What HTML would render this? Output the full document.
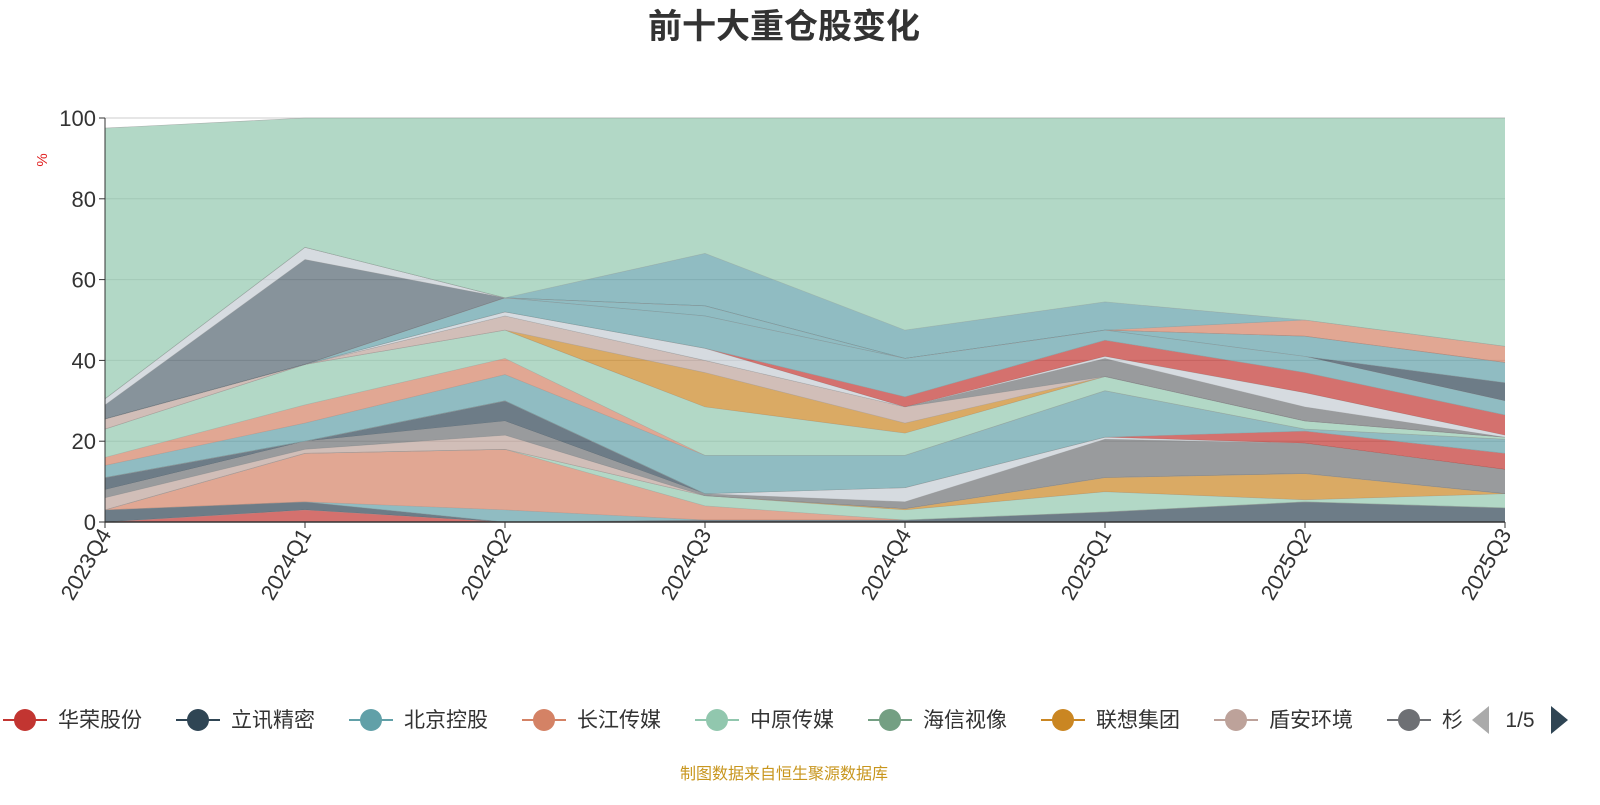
<!DOCTYPE html>
<html><head><meta charset="utf-8">
<style>
body{margin:0;background:#fff;width:1600px;height:800px;overflow:hidden;font-family:"Liberation Sans","Noto Sans CJK SC",sans-serif;}
</style></head>
<body>
<svg id="chart" width="1600" height="800" xmlns="http://www.w3.org/2000/svg">
<text x="784" y="38" text-anchor="middle" font-size="34" font-weight="bold" fill="#333" font-family="Liberation Sans, Noto Sans CJK SC, sans-serif">前十大重仓股变化</text>
<g id="grid"></g>
<g id="areas"></g>
<g id="axes"></g>
<text transform="translate(47,160) rotate(-90)" text-anchor="middle" font-size="15" fill="#e02020">%</text>
<g id="legend"></g>
<text x="784" y="779" text-anchor="middle" font-size="16" fill="#c8961e" font-family="Liberation Sans, Noto Sans CJK SC, sans-serif">制图数据来自恒生聚源数据库</text>
</svg>
<script>
const categories = ["2023Q4","2024Q1","2024Q2","2024Q3","2024Q4","2025Q1","2025Q2","2025Q3"];
const yTicks = [0,20,40,60,80,100];
const s1 = [0,3,0,0,0,0,0,0];
const s2 = [3,2,0,0.5,0.5,2.5,5,3.5];
const s3 = [0,0,3,0,0,0,0,0];
const s4 = [0,12,15,3.5,0,0,0,0];
const s5 = [0,0,0,2.5,2.5,5,0.5,3.5];
const s6 = [0,0,0,0,0.3,3.5,6.5,0];
const s7 = [3,1,3.5,0,0,0,0,0];
const s8 = [2,2,3.5,0.5,1.7,9.5,7.5,6];
const s9 = [3,0,5,0,0,0,0,0];
const s10 = [0,0,0,0,3.5,0.5,0,0];
const s11 = [0,0,0,0,0,0,3,4];
const s12 = [3,4.5,6.5,9.5,8,11.5,0.5,3.5];
const s13 = [2,4.5,4,0,0,0,0,0];
const s14 = [7,10,7,12,5.5,3.5,2,0.5];
const s15 = [0,0,0,8.5,2.5,0,0,0];
const s16 = [2.5,0,3.5,3,4,0,0,0];
const s17 = [0,0,0,0,0,4.5,3.5,0];
const s18 = [0,0,1,3,0,0.5,3.5,0.5];
const s19 = [0,0,0,0,2.5,4,5,5];
const s20 = [0,0,3.5,8,9.5,2.5,4,3.5];
const s21 = [0,0,0,0,0,0,0,4.5];
const s22 = [0,0,0,2.5,0,0,5,5];
const s23 = [3.5,26,0,0,0,0,0,0];
const s24 = [1.5,3,0,0,0,0,0,0];
const s25 = [0,0,0,0,0,0,4,4];
const s26 = [0,0,0,13,7,7,0,0];
const s27 = [67,32,44.5,33.5,52.5,45.5,50,56.5];
const seriesList = [s1,s2,s3,s4,s5,s6,s7,s8,s9,s10,s11,s12,s13,s14,s15,s16,s17,s18,s19,s20,s21,s22,s23,s24,s25,s26,s27];
const seriesColors = ["#c23531","#2f4554","#61a0a8","#d48265","#91c7ae","#ca8622","#bda29a","#6e7074","#2f4554","#c4ccd3","#c23531","#61a0a8","#d48265","#91c7ae","#ca8622","#bda29a","#6e7074","#c4ccd3","#c23531","#61a0a8","#2f4554","#61a0a8","#546570","#c4ccd3","#d48265","#61a0a8","#91c7ae"];
const legendNames = ["华荣股份","立讯精密","北京控股","长江传媒","中原传媒","海信视像","联想集团","盾安环境","杉"];
const legendColors = ["#c23531","#2f4554","#61a0a8","#d48265","#91c7ae","#749f83","#ca8622","#bda29a","#6e7074"];

const NS="http://www.w3.org/2000/svg";
const X0=105,X1=1505,Y0=522,Y1=118;
const xScale=i=>X0+i*(X1-X0)/(categories.length-1);
const yScale=v=>Y0-(v/100)*(Y0-Y1);
function mk(tag,attrs,parent){const e=document.createElementNS(NS,tag);for(const k in attrs)e.setAttribute(k,attrs[k]);parent.appendChild(e);return e;}

const grid=document.getElementById('grid');
yTicks.forEach(t=>{
  const l=mk('line',{x1:X0,x2:X1,y1:yScale(t),y2:yScale(t),stroke:'#ccc','stroke-width':1},grid);
  
  
});

const areas=document.getElementById('areas');
let base=categories.map(()=>0);
seriesList.forEach((s,si)=>{
  const top=base.map((b,i)=>b+s[i]);
  let d='';
  top.forEach((v,i)=>{d+=(i?'L':'M')+xScale(i)+','+yScale(v);});
  for(let i=base.length-1;i>=0;i--)d+='L'+xScale(i)+','+yScale(base[i]);
  d+='Z';
  const p=mk('path',{d:d,fill:seriesColors[si],'fill-opacity':0.7,stroke:'none'},areas);
  
  
  let ld='';
  top.forEach((v,i)=>{ld+=(i?'L':'M')+xScale(i)+','+yScale(v);});
  const ln=mk('path',{d:ld,fill:'none',stroke:'#999','stroke-width':0.6,'stroke-opacity':0.7},areas);
  
  
  base=top;
});

const axes=document.getElementById('axes');
const ya=mk('line',{x1:X0,x2:X0,y1:Y1,y2:Y0,stroke:'#333','stroke-width':1},axes);


const xa=mk('line',{x1:X0,x2:X1,y1:Y0,y2:Y0,stroke:'#333','stroke-width':1.5},axes);


yTicks.forEach(t=>{
  mk('line',{x1:X0-6,x2:X0,y1:yScale(t),y2:yScale(t),stroke:'#333'},axes);
  const tx=mk('text',{x:X0-9,y:yScale(t)+8,'text-anchor':'end','font-size':22,fill:'#333'},axes);
  tx.textContent=t;
  
  
});
categories.forEach((c,i)=>{
  const x=xScale(i);
  mk('line',{x1:x,x2:x,y1:Y0,y2:Y0+6,stroke:'#333'},axes);
  const tx=mk('text',{transform:`translate(${x+7},${Y0+12}) rotate(-60)`,'text-anchor':'end','font-size':22,fill:'#333'},axes);
  tx.textContent=c;
  
  
});

const lg=document.getElementById('legend');
legendNames.forEach((n,i)=>{
  const cx=25+i*173;
  const g=mk('g',{},lg);
  
  
  mk('line',{x1:cx-22,x2:cx+22,y1:720,y2:720,stroke:legendColors[i],'stroke-width':2},g);
  mk('circle',{cx:cx,cy:720,r:11,fill:legendColors[i]},g);
  const t=mk('text',{x:cx+33,y:727,'font-size':21,fill:'#333'},g);
  t.textContent=n;
});
const pl=mk('path',{d:'M1472,720 L1489,706 L1489,734 Z',fill:'#aaa'},lg);


const pt=mk('text',{x:1520,y:727,'text-anchor':'middle','font-size':21,fill:'#333'},lg);
pt.textContent='1/5';


const pr=mk('path',{d:'M1568,720 L1551,706 L1551,734 Z',fill:'#2f4554'},lg);


</script>
</body></html>
